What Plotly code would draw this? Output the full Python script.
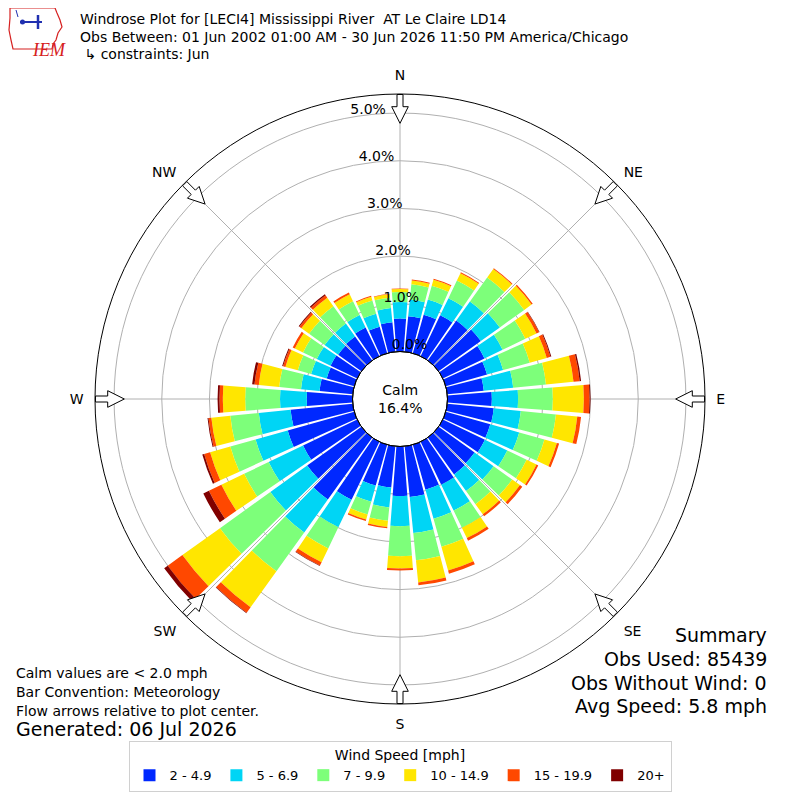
import math
import plotly.graph_objects as go

# wind direction sectors (degrees, meteorological convention)
directions = list(range(0, 360, 10))

speed_bins = ["2 - 4.9", "5 - 6.9", "7 - 9.9", "10 - 14.9", "15 - 19.9", "20+"]
bin_colors = ["#0028ff", "#00d5f5", "#7dff7a", "#ffe600", "#ff4800", "#800000"]

# percent of observations per sector, one list per speed bin
pct_2_5 = [0.69, 0.75, 0.84, 0.95, 1.03, 1.09, 0.97, 0.90, 0.77, 0.93, 0.98, 0.97,
           0.98, 0.93, 0.95, 1.00, 0.98, 1.07, 1.04, 0.87, 0.89, 1.35, 1.60, 1.40,
           1.26, 1.45, 1.31, 0.96, 0.70, 0.60, 0.62, 0.60, 0.62, 0.67, 0.58, 0.62]
pct_5_7 = [0.35, 0.35, 0.33, 0.40, 0.49, 0.49, 0.42, 0.35, 0.62, 0.55, 0.57, 0.63,
           0.52, 0.49, 0.43, 0.60, 0.63, 0.76, 0.63, 0.42, 0.35, 0.64, 0.85, 0.95,
           0.80, 0.70, 0.67, 0.56, 0.39, 0.34, 0.32, 0.35, 0.33, 0.29, 0.28, 0.30]
pct_7_10 = [0.21, 0.32, 0.30, 0.41, 0.62, 0.63, 0.53, 0.58, 0.69, 0.73, 0.74, 0.55,
            0.45, 0.48, 0.34, 0.40, 0.61, 0.57, 0.63, 0.28, 0.28, 0.49, 1.00, 1.30,
            0.57, 0.55, 0.60, 0.73, 0.46, 0.29, 0.32, 0.40, 0.45, 0.32, 0.29, 0.22]
pct_10_15 = [0.06, 0.08, 0.13, 0.17, 0.22, 0.19, 0.26, 0.37, 0.58, 0.65, 0.45, 0.27,
             0.23, 0.20, 0.26, 0.24, 0.52, 0.47, 0.26, 0.13, 0.11, 0.32, 0.93, 0.97,
             0.53, 0.44, 0.40, 0.47, 0.43, 0.27, 0.19, 0.20, 0.22, 0.16, 0.08, 0.07]
pct_15_20 = [0.01, 0.02, 0.02, 0.02, 0.02, 0.03, 0.06, 0.08, 0.13, 0.12, 0.08, 0.05,
             0.04, 0.06, 0.05, 0.06, 0.07, 0.06, 0.04, 0.03, 0.03, 0.08, 0.14, 0.38,
             0.29, 0.13, 0.06, 0.07, 0.09, 0.05, 0.05, 0.05, 0.06, 0.04, 0.02, 0.01]
pct_20_up = [0, 0, 0, 0, 0, 0, 0.01, 0.02, 0.03, 0.02, 0, 0,
             0, 0, 0, 0, 0, 0, 0, 0, 0, 0.01, 0.01, 0.09,
             0.13, 0.04, 0.02, 0.04, 0.05, 0.02, 0, 0.02, 0.03, 0, 0, 0]

radial_ticks = [0, 1, 2, 3, 4, 5]
radial_labels = ["0.0%", "1.0%", "2.0%", "3.0%", "4.0%", "5.0%"]
compass_angles = [0, 45, 90, 135, 180, 225, 270, 315]
compass_labels = ["N", "NE", "E", "SE", "S", "SW", "W", "NW"]

calm_pct = 16.4
R_MAX = 5.4

# page body has an 8px margin, so the figure is drawn 8px in from the corner
SHIFT = 8
FIG_W, FIG_H = 784, 792
# geometry of the polar area in screen pixels
CX, CY, R_OUT, R_HOLE = 400, 399, 305, 47.5
PX_PER_PCT = (R_OUT - R_HOLE) / R_MAX
M_L = CX - SHIFT - R_OUT
M_T = CY - SHIFT - R_OUT


def px(x):
    return (x - (CX - R_OUT)) / (2 * R_OUT)


def py(y):
    return ((CY + R_OUT) - y) / (2 * R_OUT)


fig = go.Figure()

series = [pct_2_5, pct_5_7, pct_7_10, pct_10_15, pct_15_20, pct_20_up]
for name, color, vals in zip(speed_bins, bin_colors, series):
    fig.add_trace(go.Barpolar(
        r=vals, theta=directions, width=8.7, name=name,
        marker=dict(color=color, line=dict(width=0)),
    ))

# flow arrows on the compass points
arrow_pts = [(275.7, 0), (292.3, 8.3), (292.3, 3), (304.5, 3), (304.5, -3),
             (292.3, -3), (292.3, -8.3), (275.7, 0)]
for ang in compass_angles:
    rr, tt = [], []
    for u, v in arrow_pts:
        rr.append((math.hypot(u, v) - R_HOLE) / PX_PER_PCT)
        tt.append(ang + math.degrees(math.atan2(v, u)))
    fig.add_trace(go.Scatterpolar(
        r=rr, theta=tt, mode="lines", fill="toself", fillcolor="white",
        line=dict(color="black", width=1), showlegend=False, hoverinfo="skip",
    ))

fig.add_trace(go.Scatterpolar(
    r=radial_ticks, theta=[350] * len(radial_ticks), mode="text",
    text=radial_labels, textposition="top right",
    textfont=dict(size=14, color="black"), showlegend=False, hoverinfo="skip",
))

fig.update_layout(
    width=FIG_W, height=FIG_H,
    margin=dict(l=M_L, r=FIG_W - M_L - 2 * R_OUT, t=M_T, b=FIG_H - M_T - 2 * R_OUT),
    paper_bgcolor="white",
    font=dict(family="DejaVu Sans", size=14, color="black"),
    polar=dict(
        domain=dict(x=[0, 1], y=[0, 1]),
        hole=R_HOLE / R_OUT,
        bgcolor="rgba(0,0,0,0)",
        barmode="stack",
        radialaxis=dict(range=[0, R_MAX], tickvals=radial_ticks[1:], showticklabels=False,
                        ticks="", showline=False, gridcolor="#b0b0b0", gridwidth=1,
                        layer="above traces"),
        angularaxis=dict(rotation=90, direction="clockwise", tickmode="array",
                         tickvals=compass_angles, ticktext=compass_labels,
                         ticks="outside", ticklen=8, tickcolor="rgba(0,0,0,0)",
                         showline=True, linecolor="black", linewidth=1,
                         gridcolor="#b0b0b0", gridwidth=1, layer="above traces",
                         tickfont=dict(size=14)),
    ),
    legend=dict(
        orientation="h", xref="container", yref="container",
        x=(400 - SHIFT) / FIG_W, xanchor="center", y=1 - (741 - SHIFT) / FIG_H, yanchor="top",
        title=dict(text="Wind Speed [mph]", side="top center", font=dict(size=14)),
        bgcolor="white", bordercolor="#d0d0d0", borderwidth=1,
        font=dict(size=13), itemwidth=30,
    ),
)

# calm circle outline
fig.add_shape(type="circle", xref="paper", yref="paper",
              x0=px(CX - R_HOLE), x1=px(CX + R_HOLE), y0=py(CY + R_HOLE), y1=py(CY - R_HOLE),
              line=dict(color="black", width=1), layer="above")

# IEM logo (rough)
logo_pts = [(10, 8), (55, 8), (57, 13), (60, 20), (62, 27), (58, 33), (56, 40), (53, 44),
            (52, 49), (13, 49), (11, 40), (9, 30), (10, 18)]
logo = "M " + " L ".join("%f %f" % (px(x), py(y)) for x, y in logo_pts) + " Z"
fig.add_shape(type="path", xref="paper", yref="paper", path=logo,
              line=dict(color="#d62020", width=1.2))
fig.add_shape(type="line", xref="paper", yref="paper", x0=px(20), x1=px(42), y0=py(22), y1=py(22),
              line=dict(color="#2030b0", width=2))
fig.add_shape(type="line", xref="paper", yref="paper", x0=px(38), x1=px(38), y0=py(15), y1=py(29),
              line=dict(color="#2030b0", width=2.5))
fig.add_shape(type="circle", xref="paper", yref="paper", x0=px(20), x1=px(25), y0=py(24.5), y1=py(19.5),
              fillcolor="#2030b0", line=dict(width=0))
fig.add_shape(type="line", xref="paper", yref="paper", x0=px(16), x1=px(18), y0=py(10), y1=py(17),
              line=dict(color="#2030b0", width=1))
fig.add_annotation(x=px(30), y=py(38), xref="paper", yref="paper", text="<i>IEM</i>",
                   showarrow=False, font=dict(family="Liberation Serif", size=18, color="#d62020"))


def note(text, x, y, size=14, anchor="left"):
    fig.add_annotation(x=px(x), y=py(y), xref="paper", yref="paper", text=text,
                       showarrow=False, xanchor=anchor, yanchor="middle",
                       font=dict(size=size, color="black"))


note("Windrose Plot for [LECI4] Mississippi River  AT Le Claire LD14", 78, 19)
note("Obs Between: 01 Jun 2002 01:00 AM - 30 Jun 2026 11:50 PM America/Chicago", 78, 37)
note(" ↳ constraints: Jun", 78, 54)

note("Calm values are < 2.0 mph", 14, 673)
note("Bar Convention: Meteorology", 14, 692)
note("Flow arrows relative to plot center.", 14, 711)
note("Generated: 06 Jul 2026", 14, 729, size=19)

note("Summary", 769, 635, size=19, anchor="right")
note("Obs Used: 85439", 769, 659, size=19, anchor="right")
note("Obs Without Wind: 0", 769, 683, size=19, anchor="right")
note("Avg Speed: 5.8 mph", 769, 706, size=19, anchor="right")

fig.add_annotation(x=0.5, y=0.5, xref="paper", yref="paper",
                   text="Calm<br>%.1f%%" % calm_pct, showarrow=False,
                   font=dict(size=14, color="black"))

fig.write_html("out.html")
